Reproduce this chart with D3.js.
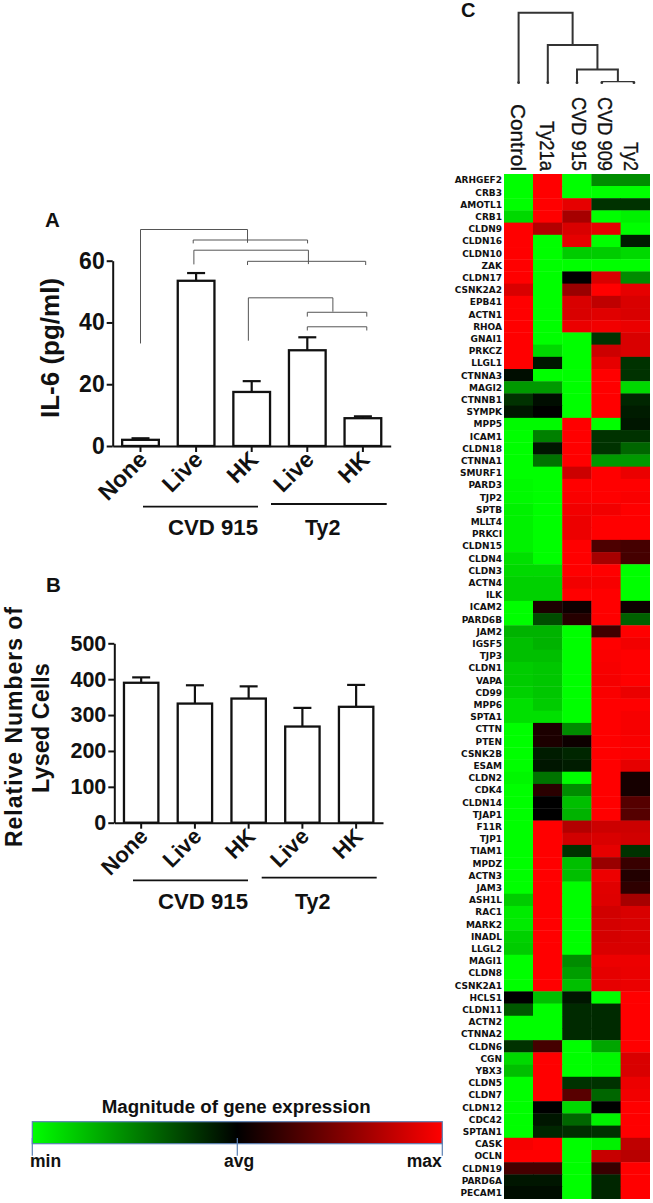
<!DOCTYPE html>
<html><head><meta charset="utf-8">
<script src="https://cdn.jsdelivr.net/npm/d3@7"></script>
<style>
html,body{margin:0;padding:0;background:#fff}
svg{display:block}
text{font-family:"Liberation Sans",Arial,sans-serif;fill:#111}
</style></head><body>
<svg id="c" width="653" height="1203"></svg>
<script>
// ---------- data ----------
const categories = ["None","Live","HK","Live","HK"];
const il6Values = [2,53.5,17.5,31,9];
const il6ErrTop = [2.5,56,21,35.2,9.6];
const il6Ticks = [0,20,40,60];
const lysedValues = [390,332,346,268,323];
const lysedErrTop = [405,383,380,320,384];
const lysedTicks = [0,100,200,300,400,500];
// brackets: [x from, x to (category units), top level, left leg end, right leg end] in axis units
const il6Brackets = [
  [0,1.925,70.1,33.2,65.8],
  [0.948,3.005,66.7,65.6,65.6],
  [0.96,3.02,63.4,58.8,58.9],
  [1.925,4.05,59.8,58.6,58.6],
  [1.94,3.46,47.98,34.1,43.5],
  [3.0,4.07,43.3,41.9,41.9],
  [3.0,4.07,38.6,37.4,37.4]
];
const heatColumns = ["Control","Ty21a","CVD 915","CVD 909","Ty2"];
const leafPositions = [0,1,2,2.85,3.95];
const genes = ["ARHGEF2","CRB3","AMOTL1","CRB1","CLDN9","CLDN16","CLDN10","ZAK","CLDN17","CSNK2A2","EPB41","ACTN1","RHOA","GNAI1","PRKCZ","LLGL1","CTNNA3","MAGI2","CTNNB1","SYMPK","MPP5","ICAM1","CLDN18","CTNNA1","SMURF1","PARD3","TJP2","SPTB","MLLT4","PRKCI","CLDN15","CLDN4","CLDN3","ACTN4","ILK","ICAM2","PARD6B","JAM2","IGSF5","TJP3","CLDN1","VAPA","CD99","MPP6","SPTA1","CTTN","PTEN","CSNK2B","ESAM","CLDN2","CDK4","CLDN14","TJAP1","F11R","TJP1","TIAM1","MPDZ","ACTN3","JAM3","ASH1L","RAC1","MARK2","INADL","LLGL2","MAGI1","CLDN8","CSNK2A1","HCLS1","CLDN11","ACTN2","CTNNA2","CLDN6","CGN","YBX3","CLDN5","CLDN7","CLDN12","CDC42","SPTAN1","CASK","OCLN","CLDN19","PARD6A","PECAM1"];
const heatValues = [
[-1,1,-1,-.55,-.55],[-1,1,-1,-1,-1],[-1,1,.9,-.2,-.2],[-.85,1,.65,-1,-.95],[1,.7,.85,.9,-1],
[1,-1,.9,-1,-.12],[1,-1,-.8,-.8,-.85],[1,-1,-1,-1,-1],[1,-1,.02,.85,-.55],[.85,-1,.6,1,.9],
[1,-1,.85,.75,.85],[1,-1,.85,.88,.85],[1,-1,.92,.95,.92],[1,-1,-1,-.2,.85],[1,-.85,-1,.8,.85],
[1,-.08,-1,.9,-.2],[-.05,-1,-1,1,-.2],[-.6,-.6,-1,1,-.85],[-.2,-.05,-1,1,-.15],[-.07,-.02,-1,1,-.12],
[-.98,-.98,1,-1,-.07],[-1,-.5,1,-.2,-.2],[-1,-.07,1,-.2,-.4],[-1,-.45,1,-.6,-.6],[-1,-1,.8,1,.92],
[-.98,-1,1,1,1],[-.98,-1,.98,1,.98],[-.95,-1,.95,.95,1],[-.95,-1,.93,1,1],[-.95,-1,.93,1,1],
[-.95,-1,1,.3,.27],[-.88,-1,1,.65,.27],[-.85,-.85,1,1,-1],[-.82,-.82,.95,.97,-1],[-.82,-.82,1,1,-1],
[-1,.12,.05,1,.05],[-1,-.3,.15,1,-.38],[-.7,-.7,-1,.25,1],[-.75,-.7,-1,1,.95],[-.75,-.75,-1,.98,1],
[-.8,-.78,-1,.97,1],[-.8,-.78,-1,.96,1],[-.82,-.78,-1,.98,.92],[-.88,-.8,-1,1,1],[-.88,-.88,-1,1,.97],
[-1,.12,-.55,1,.97],[-1,.12,.05,1,.98],[-1,-.12,-.15,1,.98],[-1,-.08,-.12,1,.9],[-.97,-.45,-1,1,.08],
[-1,.17,-.55,1,.07],[-1,0,-.75,1,.33],[-1,-.02,-.7,1,.33],[-1,1,.7,.8,.8],[-1,1,.82,.85,.82],
[-1,1,-.2,.9,-.2],[-1,1,-.75,.6,.22],[-1,1,-.75,.93,.13],[-1,1,-1,.88,.18],[-.8,1,-1,.87,.65],
[-.92,1,-1,.82,.85],[-.92,1,-1,.83,.85],[-.82,1,-1,.83,.85],[-.8,1,-1,.85,.85],[-1,1,-.55,.93,.93],
[-1,1,-.62,.9,.92],[-1,1,-.75,.9,.92],[-.02,-.75,-.08,-1,1],[-.35,-1,-.17,-.17,1],[-1,-1,-.17,-.17,1],
[-1,-1,-.17,-.17,1],[-.2,.27,-1,-.65,1],[-.85,1,-1,-.97,.85],[-.75,1,-1,-.97,.85],[-1,1,-.2,-.2,.93],
[-1,1,.35,-.4,.95],[-1,0,-.85,0,1],[-1,-.07,-.4,-.95,1],[-1,-.15,-.18,-.2,1],[.97,1,-1,-.95,.75],
[1,1,-1,.78,.72],[.27,.27,-1,.22,1],[-.07,-.07,-1,-.15,1],[-.06,-.03,-1,-.15,1]
];
// dendrogram: nested [left, right, height]; leaves are column indices
const dendrogram = [0,[1,[2,[3,4,0.014],0.19],0.538],1.0];
const legendStops = [-1,0,1];
const legendLabels = ["min","avg","max"];

// ---------- helpers ----------
const svg = d3.select("#c");
const BLK = "#111";

function barPanel(o){
  const g = svg.append("g");
  const x = d3.scaleBand().domain(d3.range(o.values.length)).range([o.x0,o.x1]).paddingInner(o.pad).paddingOuter(o.pad/2);
  const y = d3.scaleLinear().domain(o.domain).range([o.y0,o.y1]);
  g.selectAll("rect.bar").data(o.values).join("rect").attr("class","bar")
    .attr("x",(d,i)=>x(i)).attr("width",x.bandwidth())
    .attr("y",d=>y(d)).attr("height",d=>y(0)-y(d))
    .attr("fill","#fff").attr("stroke",BLK).attr("stroke-width",2.3);
  o.values.forEach((v,i)=>{
    const cx=x(i)+x.bandwidth()/2;
    g.append("line").attr("x1",cx).attr("x2",cx).attr("y1",y(v)).attr("y2",y(o.err[i])).attr("stroke",BLK).attr("stroke-width",2.2);
    g.append("line").attr("x1",cx-o.cap).attr("x2",cx+o.cap).attr("y1",y(o.err[i])).attr("y2",y(o.err[i])).attr("stroke",BLK).attr("stroke-width",2.2);
  });
  const ya = g.append("g").attr("transform",`translate(${o.x0},0)`)
    .call(d3.axisLeft(y).tickValues(o.ticks).tickSize(6).tickSizeOuter(0).tickPadding(2));
  ya.selectAll("path,line").attr("stroke",BLK).attr("stroke-width",2);
  ya.selectAll("text").attr("font-size",o.tickFont).attr("font-weight","bold").attr("fill",BLK).style("font-family",'"Liberation Sans"');
  const xa = g.append("g").attr("transform",`translate(0,${o.y0})`)
    .call(d3.axisBottom(x).tickFormat(i=>categories[i]).tickSize(6).tickSizeOuter(0));
  xa.selectAll("path,line").attr("stroke",BLK).attr("stroke-width",2);
  xa.selectAll("text").attr("font-size",o.xFont).attr("font-weight","bold").attr("fill",BLK)
    .attr("text-anchor","end").attr("dy",0).attr("y",0)
    .attr("transform",`translate(${o.lblDx},${o.lblDy}) rotate(-45)`);
  o.groups.forEach(gr=>{
    g.append("line").attr("x1",gr.x1).attr("x2",gr.x2).attr("y1",gr.y).attr("y2",gr.y).attr("stroke",BLK).attr("stroke-width",1.8);
    g.append("text").attr("x",gr.tx).attr("y",gr.ty).attr("font-size",gr.fs).attr("font-weight","bold").text(gr.label);
  });
  return {x,y,g};
}

// ---------- panel A ----------
const A = barPanel({values:il6Values,err:il6ErrTop,ticks:il6Ticks,domain:[0,60],x0:112.7,x1:390.7,y0:446,y1:260.7,pad:.34,cap:9,
  tickFont:23,xFont:23,lblDx:8,lblDy:15,
  groups:[{label:"CVD 915",x1:143,x2:258,y:506.7,tx:168,ty:535,fs:22.2},{label:"Ty2",x1:271,x2:386.7,y:504,tx:305,ty:535,fs:21.5}]});
const ax = d3.scaleLinear().domain([0,4]).range([A.x(0)+A.x.bandwidth()/2,A.x(4)+A.x.bandwidth()/2]);
il6Brackets.forEach(b=>{
  const p=d3.path();
  p.moveTo(ax(b[0]),A.y(b[3])); p.lineTo(ax(b[0]),A.y(b[2])); p.lineTo(ax(b[1]),A.y(b[2])); p.lineTo(ax(b[1]),A.y(b[4]));
  A.g.append("path").attr("d",p.toString()).attr("fill","none").attr("stroke","#555").attr("stroke-width",1);
});
svg.append("text").attr("x",45).attr("y",227).attr("font-size",20.5).attr("font-weight","bold").text("A");
svg.append("text").attr("transform","translate(59,348) rotate(-90)").attr("text-anchor","middle").attr("font-size",26).attr("font-weight","bold").text("IL-6 (pg/ml)");

// ---------- panel B ----------
barPanel({values:lysedValues,err:lysedErrTop,ticks:lysedTicks,domain:[0,500],x0:114.3,x1:383,y0:822.7,y1:643.3,pad:.36,cap:9,
  tickFont:21.5,xFont:22,lblDx:8,lblDy:15,
  groups:[{label:"CVD 915",x1:133,x2:248,y:880.3,tx:158,ty:909,fs:22.2},{label:"Ty2",x1:261.7,x2:376.7,y:877.7,tx:295,ty:909,fs:21.5}]});
svg.append("text").attr("x",46).attr("y",592).attr("font-size",20.5).attr("font-weight","bold").text("B");
svg.append("text").attr("transform","translate(21.5,727) rotate(-90)").attr("text-anchor","middle").attr("font-size",23)
  .attr("textLength",240).attr("font-weight","bold").text("Relative Numbers of");
svg.append("text").attr("transform","translate(49,728) rotate(-90)").attr("text-anchor","middle").attr("font-size",23.5).attr("font-weight","bold").text("Lysed Cells");

// ---------- panel C ----------
svg.append("text").attr("x",461).attr("y",17).attr("font-size",20).attr("font-weight","bold").text("C");
const hx = d3.scaleBand().domain(heatColumns).range([504,650]);
const hy = d3.scaleBand().domain(genes).range([174,1199]);
const color = d3.scaleLinear().domain(legendStops).range(["#00ff00","#000000","#ff0000"]);
const defs = svg.append("defs");
defs.append("filter").attr("id","soft").attr("x","-2%").attr("y","-1%").attr("width","104%").attr("height","102%")
  .append("feGaussianBlur").attr("stdDeviation",0.7);
const cp = defs.append("clipPath").attr("id","hclip");
cp.append("rect").attr("x",hx.range()[0]).attr("y",hy.range()[0]).attr("width",hx.range()[1]-hx.range()[0]).attr("height",hy.range()[1]-hy.range()[0]);
const hg = svg.append("g").attr("clip-path","url(#hclip)").append("g").attr("filter","url(#soft)");
genes.forEach((gene,r)=>{
  hg.selectAll(null).data(heatValues[r]).join("rect")
    .attr("x",(d,i)=>hx(heatColumns[i])-0.2).attr("y",hy(gene)-0.2)
    .attr("width",hx.bandwidth()+0.4).attr("height",hy.bandwidth()+0.4)
    .attr("fill",d=>color(d));
});
svg.append("g").selectAll("text").data(genes).join("text")
  .attr("x",502).attr("y",g=>hy(g)+hy.bandwidth()/2+3.2).attr("text-anchor","end")
  .attr("font-size",9).attr("font-weight","bold").style("font-family",'"DejaVu Sans"').text(g=>g);
// column labels (tall, condensed glyphs as in the reference)
const leafX = d3.scaleLinear().domain([0,1]).range([hx(heatColumns[0])+hx.bandwidth()/2,hx(heatColumns[1])+hx.bandwidth()/2]);
const colBase = [510.7,540,571.7,598,624];
const colLen = [67,50,74,74,29];
svg.append("g").selectAll("text").data(heatColumns).join("text")
  .attr("transform",(d,i)=>`translate(${colBase[i]},171) rotate(90)`).attr("text-anchor","end")
  .attr("font-size",21).attr("textLength",(d,i)=>colLen[i]).attr("lengthAdjust","spacingAndGlyphs")
  .attr("stroke","#111").attr("stroke-width",0.35).text(d=>d);
// dendrogram
const dh = d3.scaleLinear().domain([0,1]).range([82.7,12.7]);
const dg = svg.append("g").attr("fill","none").attr("stroke","#333").attr("stroke-width",2);
function drawNode(n){
  if(typeof n==="number"){
    const px=leafX(leafPositions[n]);
    svg.append("circle").attr("cx",px).attr("cy",dh(0)).attr("r",1.4).attr("fill","#333");
    return {x:px,h:0,leaf:true};
  }
  const l=drawNode(n[0]), r=drawNode(n[1]), h=n[2];
  const p=d3.path();
  p.moveTo(l.x,dh(l.h)); p.lineTo(l.x,dh(h)); p.lineTo(r.x,dh(h)); p.lineTo(r.x,dh(r.h));
  dg.append("path").attr("d",p.toString()).attr("stroke-width",h<0.05?1.2:2);
  return {x:(l.x+r.x)/2,h};
}
drawNode(dendrogram);

// ---------- legend ----------
const lx = d3.scaleLinear().domain([-1,1]).range([32.3,442.3]);
const grad = defs.append("linearGradient").attr("id","lg");
legendStops.forEach(s=>grad.append("stop").attr("offset",(s+1)/2).attr("stop-color",color(s)));
svg.append("text").attr("x",101.7).attr("y",1113).attr("font-size",18.7).attr("font-weight","bold").text("Magnitude of gene expression");
svg.append("rect").attr("x",lx(-1)).attr("y",1121.7).attr("width",lx(1)-lx(-1)).attr("height",22)
  .attr("fill","url(#lg)").attr("stroke","#5b80b4").attr("stroke-width",1.2);
legendStops.forEach((s,i)=>{
  svg.append("line").attr("x1",lx(s)).attr("x2",lx(s)).attr("y1",1138).attr("y2",1155.7).attr("stroke","#5b80b4").attr("stroke-width",1.2);
  svg.append("text").attr("x",i==0?30:i==1?239:441.7).attr("y",1167).attr("text-anchor",["start","middle","end"][i])
    .attr("font-size",17.5).attr("font-weight","bold").text(legendLabels[i]);
});
</script>
</body></html>
